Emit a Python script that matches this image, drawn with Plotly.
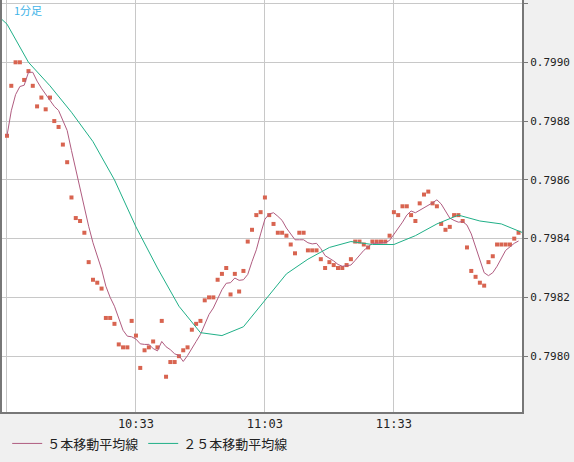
import plotly.graph_objects as go
import pandas as pd

closes = [79875,79892,79900,79900,79894,79897,79892,79885,79888,79884,79888,79880,79878,79872,79866,
79854,79847,79846,79842,79832,79826,79825,79823,79813,79813,79811,79804,79803,79803,79812,79807,
79796,79802,79803,79805,79803,79812,79793,79798,79798,79800,79802,79803,79809,79811,79812,79819,
79820,79820,79826,79828,79830,79821,79828,79822,79829,79839,79843,79848,79849,79854,79848,79845,
79842,79842,79841,79838,79835,79842,79842,79836,79836,79836,79833,79830,79832,79831,79830,79830,
79831,79833,79839,79839,79838,79837,79839,79839,79839,79839,79841,79849,79848,79851,79851,79848,
79846,79852,79855,79856,79852,79851,79845,79843,79844,79848,79848,79846,79837,79829,79827,79825,
79824,79832,79834,79838,79838,79838,79838,79840,79842]
ma25_min = [-1.5,0,5,10,15,20,25,30,35,40,45,50,55,60,65,70,75,80,85,90,95,100,105,110,115,120]
ma25_val = [79915,79913,79900,79892,79883,79873,79860,79844,79830,79817,79808,79807,79810,79819,
79828,79833,79837,79839,79838,79838,79841,79845,79848,79846,79845,79842]
tick_vals = ["10:03","10:33","11:03","11:33","12:03"]
tick_text = ["","10:33","11:03","11:33",""]
y_ticks = [0.7980,0.7982,0.7984,0.7986,0.7988,0.7990,0.7992]
y_text = ["0.7980","0.7982","0.7984","0.7986","0.7988","0.7990",""]

base = pd.Timestamp("2024-01-01 10:03")
t = [base + pd.Timedelta(minutes=i) for i in range(len(closes))]
c = pd.Series(closes) / 100000
ma5 = c.rolling(5, min_periods=1).mean()
t25 = [base + pd.Timedelta(minutes=m) for m in ma25_min]
v25 = [v / 100000 for v in ma25_val]

fig = go.Figure()
fig.add_trace(go.Scatter(x=t, y=c, mode="markers", marker=dict(symbol="square", size=4, color="#d86450"),
                         showlegend=False))
fig.add_trace(go.Scatter(x=t, y=ma5, mode="lines", line=dict(color="#b05c80", width=1), name="５本移動平均線"))
fig.add_trace(go.Scatter(x=t25, y=v25, mode="lines", line=dict(color="#20b088", width=1), name="２５本移動平均線"))
fig.update_layout(
    width=574, height=462, margin=dict(l=2, r=52, t=0, b=50, autoexpand=False),
    paper_bgcolor="#f0f0f0", plot_bgcolor="white",
    font=dict(family="DejaVu Sans Mono, Noto Sans CJK JP", size=12, color="#222"),
    legend=dict(orientation="h", x=0.01, y=-0.04, xanchor="left", yanchor="top",
                font=dict(family="Noto Sans CJK JP", size=13), bgcolor="rgba(0,0,0,0)"),
    annotations=[dict(text="1分足", x=0.02, y=1, xref="paper", yref="paper", xanchor="left", yanchor="top",
                      showarrow=False, font=dict(color="#40b4e8", size=11, family="Noto Sans CJK JP"))],
)
fig.update_xaxes(range=[base - pd.Timedelta(minutes=1.16), base + pd.Timedelta(minutes=119.8)], automargin=False,
                 tickvals=[pd.Timestamp("2024-01-01 " + s) for s in tick_vals], ticktext=tick_text,
                 showgrid=True, gridcolor="#c8c8c8", zeroline=False, ticks="", showline=True,
                 linecolor="#777", mirror=True, linewidth=2)
fig.update_yaxes(range=[0.79781, 0.799212], side="right", tickvals=y_ticks, ticktext=y_text, automargin=False,
                 tickfont=dict(size=11),
                 showgrid=True, gridcolor="#c8c8c8", zeroline=False, showline=True, linecolor="#777",
                 mirror=True, linewidth=2, ticks="outside", ticklen=4, tickcolor="#777")
fig.write_html("out.html", config={"displayModeBar": False},
               post_script="document.body.style.margin='0';document.body.style.overflow='hidden';")
